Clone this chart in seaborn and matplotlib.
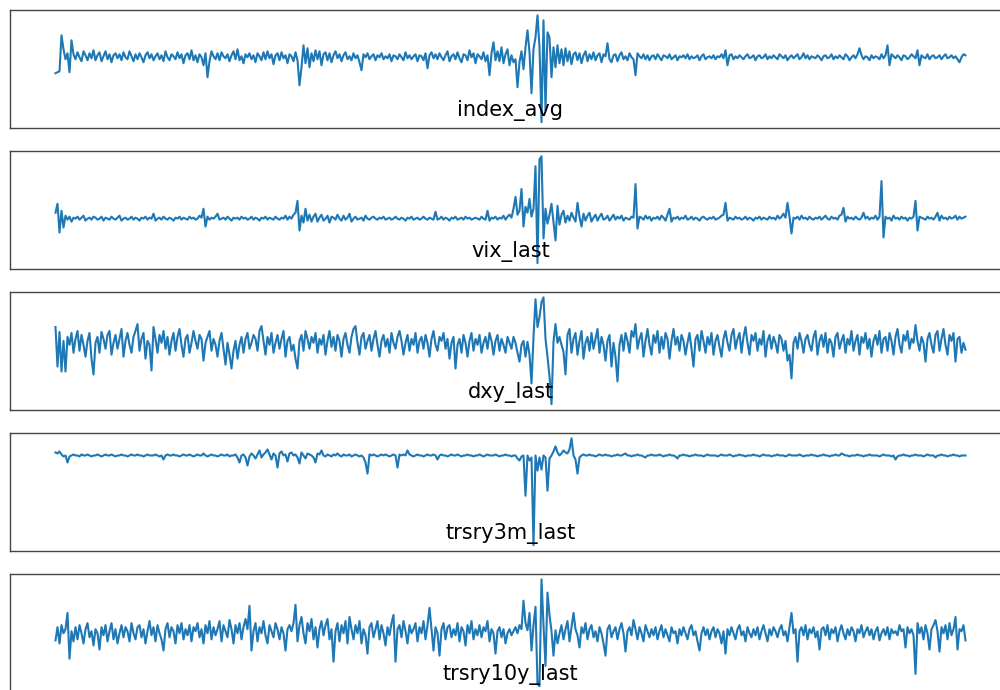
import numpy as np
import matplotlib
matplotlib.use("Agg")
import matplotlib.pyplot as plt
import seaborn as sns

# daily changes (arbitrary units)
index_avg = [
    -16, -15, -14, 22, 8, -2, 4, -15, 17, 3,
    -2, 5, 0, -4, 6, 2, -3, 4, -1, 7,
    -3, 2, 5, -4, 1, 6, -2, 3, -5, 2,
    4, -1, 3, -3, 5, 0, -2, 6, 1, -4,
    3, -2, 4, 0, -5, 2, 5, -1, 3, -3,
    1, 4, -2, 2, -4, 6, 0, -3, 3, 1,
    -2, 5, -1, 3, -6, 2, 4, -2, 7, -3,
    2, -5, 3, 0, -8, 4, -20, -4, 6, 1,
    -2, 4, -3, 5, 1, -1, 3, -4, 2, 6,
    -2, 8, -3, 1, -6, 3, 0, 4, -2, 2,
    -5, 4, 1, -3, 5, -2, 6, -1, 3, -7,
    2, 4, -3, 5, -1, 2, -6, 3, 1, -4,
    5, -3, -28, -10, 12, -6, 9, -10, 4, -4,
    7, -2, 6, -8, 3, 5, -3, 4, -5, 2,
    6, -1, 3, -4, 2, 5, -2, 1, -3, 4,
    -1, 2, -5, -13, 3, 0, 4, -2, 1, 3,
    -3, 2, 0, 4, -2, 1, -1, 3, -4, 2,
    1, -2, 3, 0, -3, 5, -1, 2, -2, 1,
    3, -4, 2, 1, -3, 4, -11, 2, 5, -1,
    3, -2, 4, 0, -3, 2, 6, -4, 1, 3,
    -2, 5, -1, -5, 3, 2, -3, 7, 0, 4,
    -6, 3, 1, -2, 5, -4, 2, -18, 4, 15,
    -3, 6, -4, 10, -6, 3, 8, -8, 2, -5,
    -2, -30, -5, 6, -12, 10, 27, 5, -36, 8,
    20, 42, 10, -65, 37, -53, 25, 20, -20, 10,
    -10, 12, -6, 8, -8, 9, -4, 6, -7, 3,
    5, -3, 4, -6, 2, 6, -4, 3, -2, 5,
    -3, 2, 4, -5, 3, 1, 14, -2, -5, 2,
    3, -4, 2, 5, -2, 1, -3, 4, 0, -2,
    -18, 4, 1, -1, 3, -2, 2, -3, 1, 2,
    -2, 3, 0, -3, 2, 1, -1, 3, -2, 0,
    2, -3, 1, 0, 2, -1, 3, -2, 1, -1,
    0, 2, -3, 1, 3, -2, 0, 1, -1, 2,
    -2, 1, 0, 3, -1, 7, -8, 2, 3, -2,
    1, -1, 2, 0, -2, 1, 3, -1, 0, 2,
    -3, 1, 2, -1, 0, 3, -2, 1, -1, 2,
    0, -2, 3, 1, -1, 2, -3, 0, 2, -1,
    1, 3, -2, 0, 4, -1, 2, -2, 1, 0,
    -1, 2, 0, -3, 1, 2, -1, 0, 3, -2,
    1, -1, 2, 0, -2, 3, 1, -3, 0, 2,
    -1, 3, 9, 2, -2, 1, 0, -3, 2, -1,
    1, 0, -2, 3, -1, 2, 12, -8, 3, 1,
    -1, 2, 0, -3, 2, 1, -2, 0, 3, 1,
    -1, 7, -8, 2, 0, -1, 3, -2, 1, 2,
    -1, 0, 2, -2, 1, 3, -1, 0, 2, -1,
    1, -2, -5, 0, 3, 2,
]

vix_last = [
    6, 15, -14, 8, -9, 3, -1, 2, -3, 1,
    0, 2, -1, 1, 3, -2, 0, 1, -1, 2,
    1, -1, 0, 2, -2, 1, 0, -1, 2, 0,
    -1, 1, 3, -2, 0, 1, -1, 0, 2, -1,
    1, 0, -2, 1, 0, 2, -1, 1, 0, 5,
    -2, 0, 1, -1, 2, 0, -1, 1, 0, -2,
    1, 0, 2, -1, 1, 0, -1, 2, 0, 1,
    -1, 0, 3, 1, 10, -8, 2, -1, 1, 0,
    2, 5, -1, 0, 1, -1, 2, 0, -2, 1,
    0, 1, -1, 2, 0, 1, -1, 0, 2, -1,
    1, 0, -2, 1, 0, 2, -1, 1, 0, -1,
    2, 0, -1, 1, 0, 3, -1, 2, 0, 4,
    6, 18, -12, 3, -4, 10, -2, 4, -3, 2,
    5, -3, 1, 4, -2, 0, 3, -4, 2, 1,
    -1, 4, 0, -2, 3, -1, 1, 5, -3, 0,
    2, -1, 0, 1, -2, 3, 0, -1, 1, 2,
    0, -1, 1, 0, 2, -1, 0, 1, -1, 0,
    2, 0, -1, 1, 0, -2, 1, 0, 2, -1,
    0, 1, -1, 0, 2, 0, -1, 1, 0, -1,
    7, -1, 0, 2, -1, 1, 0, -2, 1, 0,
    2, -1, 0, 1, -1, 2, 0, 1, -1, 0,
    1, 0, -1, 2, 0, -1, 8, -2, 1, 0,
    2, -1, 1, 0, 3, -1, 2, 4, 1, 10,
    22, 4, 8, 30, -8, 12, 6, 20, 2, 10,
    53, -45, 60, 63, -20, 10, -5, 4, 15, -4,
    -22, 13, -6, 4, 8, -4, 3, -2, 6, 1,
    -3, 16, 2, -8, 5, -2, 3, 6, -3, 1,
    4, -2, 2, 5, -1, 0, 3, -2, 1, 4,
    -1, 2, 0, 3, -2, 1, 0, -1, 2, 1,
    35, -10, 2, 1, -1, 3, 0, 2, -2, 1,
    0, 2, -1, 3, 1, -2, 4, 10, -3, 1,
    0, 2, -1, 1, 0, 3, -1, 0, 2, -1,
    1, 0, -2, 1, 2, 0, -1, 1, 0, 2,
    -1, 0, 1, 3, 4, 16, -2, 1, 0, -1,
    2, 0, 1, -1, 0, 2, -1, 1, 0, -2,
    1, 0, 2, -1, 1, 0, -1, 2, 0, 1,
    -1, 3, 0, 2, 5, 1, 16, 2, -15, 1,
    0, 2, -1, 3, 0, 1, -1, 2, 0, -1,
    1, 0, 2, -1, 1, 3, 0, -1, 2, 0,
    1, -1, 3, 4, 11, -3, 2, 0, 1, -1,
    2, 0, -1, 1, 6, 0, 2, -1, 1, 0,
    3, -1, 2, 38, -19, 2, 0, 1, -2, 3,
    0, 1, -1, 2, 0, 1, -2, 1, 0, 2,
    18, -12, 2, 1, 0, -1, 2, 0, 1, -1,
    2, 6, -2, 3, 0, 1, -1, 2, 0, 1,
    3, -1, 2, 0, 1, 2,
]

dxy_last = [
    20, -20, 15, -25, 6, -25, 10, 2, 14, -6,
    8, 16, -4, 12, 2, -10, 6, 14, -12, -28,
    4, 10, -6, 15, 8, -2, 12, 16, -8, 4,
    12, -2, 8, 18, -10, 6, 14, 2, -6, 10,
    16, 23, -4, 8, 14, -12, 6, 2, -24, 20,
    8, -6, 12, 4, 16, -2, 10, -8, 6, 14,
    -4, 10, 18, 2, -10, 8, 12, -6, 4, 16,
    6, -2, 12, 8, -14, 4, 10, 16, -4, 8,
    2, -10, 6, 14, -2, -18, 4, -8, -22, -4,
    6, -12, 2, 10, -6, 8, 14, -2, 4, 12,
    8, -4, 16, 21, 6, -8, 10, 2, 14, -6,
    4, 12, -2, 8, 16, -10, 6, 10, -4, 2,
    -12, -22, 6, 12, -4, 16, 8, -2, 10, 4,
    14, -6, 8, 2, 12, -8, 6, 16, 0, 10,
    -4, 12, 6, -10, 8, 14, 2, -6, 10, 18,
    21, 4, -8, 10, 14, -2, 6, 12, -4, 8,
    16, 2, -10, 6, 12, 0, 8, -6, 14, 4,
    -2, 10, 16, 6, -8, 4, 12, -4, 8, 2,
    14, -6, 6, 10, -2, 12, 4, -10, 8, 16,
    2, -4, 10, 6, 14, -2, 8, -12, 4, 10,
    -22, 2, 8, -6, 12, 4, -10, 6, 14, -4,
    8, 2, 12, -6, 4, 10, -2, 14, 6, -8,
    6, 12, -4, 8, 2, -6, 10, 4, -2, 10,
    4, -6, -15, 2, 6, -10, 5, -8, -37, 10,
    48, 20, 30, 45, 50, 8, -10, -30, -58, 5,
    23, 4, 10, 2, -5, -28, 12, 18, -6, 8,
    14, -8, 6, 16, -12, 4, 10, -4, 14, -2,
    8, 18, -6, 10, 2, -14, 6, 12, -20, 4,
    -10, -35, 2, 12, -4, 14, 6, -6, 16, 10,
    23, -2, 8, 14, -10, 6, 18, 2, -8, 12,
    4, 16, -6, 10, -2, 14, 8, -12, 6, 18,
    2, 10, -4, 12, 6, -8, 4, 14, -2, -20,
    8, 12, -4, 16, 6, -6, 10, 2, 14, -8,
    6, 12, 0, -10, 8, 16, 4, -4, 12, 18,
    -2, 8, 14, -6, 10, 20, 4, -8, 12, 6,
    14, -4, 8, 2, 16, -10, 6, 12, -2, 10,
    4, -6, 12, 8, -4, 6, -14, -8, -32, 4,
    10, -2, 14, 6, -6, 8, 12, 2, -4, 10,
    16, -8, 6, 12, 0, 14, -6, 8, 4, -10,
    10, 14, -2, 6, 12, -6, 8, 2, 16, -4,
    6, 12, -8, 10, 4, 14, -2, 8, -10, 6,
    12, 2, 16, -6, 8, 10, -4, 14, 6, -8,
    10, 18, 2, -6, 12, 6, 16, -2, 8, 4,
    22, 6, -4, 10, 4, -15, 8, 14, 2, -6,
    12, 16, -4, 8, 18, 2, -8, 12, 6, 14,
    -15, 8, 10, -6, 4, -3,
]

trsry3m_last = [
    3, 2, 4, 1, -1, 0, -7, -1, 0, 1,
    0, 0, -1, 1, 0, 0, 1, 0, -1, 0,
    0, 1, 0, -1, 0, 1, 0, 0, 1, 0,
    -1, 0, 0, 1, 0, 0, -1, 0, 1, 0,
    0, 1, 0, 0, -1, 0, 1, 0, 0, 0,
    1, 0, -1, 0, -4, 0, 1, 0, 0, 1,
    0, 0, -1, 0, 1, 0, 0, 1, 0, -1,
    0, 1, 0, 0, 2, 0, -1, 0, 1, 0,
    0, -1, 0, 1, 0, 0, 1, -1, 0, 0,
    1, -2, -7, 0, 1, -2, -10, -1, 2, 0,
    -3, 1, 5, -2, 1, 3, 6, 1, -4, 2,
    0, -12, 2, 4, 0, 1, -6, 2, 3, 0,
    1, -2, -8, 3, 0, -3, 2, 1, 0, -2,
    -7, 2, 1, 5, 0, -1, 1, 0, -1, 1,
    0, 2, 0, -1, 1, 0, 0, 1, -1, 0,
    1, 0, -1, 0, -2, -7, -18, 1, 0, 1,
    0, -1, 0, 1, 0, 1, 0, -1, 0, 1,
    0, -12, 1, 0, 1, 0, 5, 1, 0, -1,
    0, 1, 0, 0, -1, 0, 1, 0, 0, 1,
    0, -4, 0, 1, 0, 0, -1, 0, 1, 0,
    0, 1, 0, -1, 0, 0, 1, 0, 0, -1,
    0, 0, 1, 0, -1, 0, 1, 0, 0, 0,
    1, 0, -1, 0, 0, 1, 0, 0, -1, 0,
    0, -3, -5, -1, 0, -40, 0, -5, -2, -89,
    0, -15, -2, -14, 0, -2, -35, -3, 0, 4,
    9, 3, 0, 2, 5, 3, 2, 6, 17, 0,
    -4, -18, -2, 0, 1, 0, 0, 1, 0, 0,
    -1, 0, 1, 0, 0, 1, 0, 0, -1, 0,
    0, 1, 0, 0, 1, 2, 0, 0, -1, 0,
    0, 1, 0, 0, -1, -2, 0, 0, 1, 0,
    0, 0, 1, 0, -1, 0, 0, 1, 0, 0,
    -1, -3, 0, 0, 1, 0, 0, -1, 0, 0,
    1, 0, 0, 0, -1, 0, 1, 0, 0, 0,
    0, -1, 0, 1, 0, 0, 0, 1, 0, -1,
    0, 0, 1, 0, 0, -1, 0, 0, 0, 1,
    0, 0, -1, 0, 1, 0, 0, 0, -1, 0,
    0, 1, 0, 0, 0, -1, 0, 1, 0, 0,
    0, 0, 1, 0, -1, 0, 0, 0, 1, 0,
    0, -1, 0, 0, 1, 0, 0, -1, 0, 0,
    1, 0, 0, 2, 1, 0, 0, -1, 0, 0,
    0, 1, 0, 0, -1, 0, 0, 1, 0, 0,
    0, 0, -1, 0, 1, 0, 0, 0, -1, 0,
    -4, -1, 0, 0, 1, 0, 0, -1, 0, 0,
    1, 0, 0, 0, -1, 0, 1, 0, 0, 0,
    -2, 0, 0, 1, 0, 0, -1, 0, 0, 1,
    0, 0, -1, 0, 0, 0,
]

trsry10y_last = [
    -5, 8, -8, 10, 2, 6, 22, -23, 4, -6,
    8, -4, 10, 2, -8, 6, 12, -2, 4, -10,
    6, 2, -14, 8, 0, 10, -6, 4, 12, -4,
    6, -8, 2, 10, -2, 8, 4, -6, 12, 2,
    -4, 8, 10, -2, 6, -8, 4, 14, 0, 8,
    -6, 10, 2, -4, -15, 6, 12, -2, 8, 4,
    -8, 10, 2, 12, -4, 6, 0, 10, -6, 8,
    4, 12, -2, 6, -8, 10, 2, 14, -4, 8,
    0, 6, 14, -6, 10, 4, -2, 15, 6, -8,
    10, 2, 12, -4, 8, 16, 6, 29, -15, 4,
    12, -6, 8, 2, 14, 0, -8, 10, 4, -2,
    12, 6, -4, 8, 2, -15, 6, 10, 4, 12,
    30, -6, 10, 18, 2, -8, 12, 4, 16, -4,
    8, -12, 6, 14, 0, 10, 16, -4, 6, -26,
    4, 12, -6, 10, 2, 14, -8, 18, 6, -4,
    10, 2, 14, -8, 6, 0, -18, 8, 12, -2,
    6, 14, -4, 10, 2, -10, 8, 0, 12, 20,
    -26, 6, 10, -2, 14, 4, -8, 10, 2, 6,
    12, -6, 8, 2, 14, -4, 10, 27, 6, -15,
    8, 2, -20, 6, 12, -4, 8, 10, -2, 6,
    0, 12, -6, 8, 4, -10, 10, 2, 14, -4,
    6, 0, 10, -2, 8, 4, 14, -6, 6, 2,
    -18, 4, 8, -2, 6, -8, 2, 6, 0, 4,
    8, 2, 10, 6, 34, 12, 5, 22, -15, 10,
    28, -48, -50, 55, 10, -30, 42, 20, 4, -20,
    5, -8, 2, 10, -4, 6, 14, -6, 8, 22,
    6, 0, -12, 8, 2, 12, -4, 6, 10, -2,
    4, -6, 8, 2, -8, -20, 6, 10, -2, 4,
    8, -4, 6, 12, 2, -16, 4, 8, 0, 15,
    6, -4, 8, 2, -6, 10, 4, -2, 6, 0,
    8, -4, 4, 10, -2, 6, 0, -6, 8, 2,
    4, -8, 6, 0, 8, 2, -4, 6, 10, 0,
    4, -6, -15, 2, 8, 0, 6, -4, 4, 8,
    -2, 6, 2, -8, 4, -18, 6, 0, 8, 2,
    -4, 6, 10, 0, 4, -6, 8, 2, -2, 6,
    0, 8, -4, 4, 10, 2, -6, 6, 0, 8,
    4, -2, 6, 10, 0, 4, -6, 8, 22, 2,
    6, -26, 4, 8, 0, 10, -4, 6, 2, 8,
    -2, 4, -14, 6, 8, 0, 10, -4, 6, 2,
    8, -6, 4, 10, 2, -4, 6, 0, 8, 4,
    -6, 6, 2, 10, -2, 4, 8, 0, 6, -4,
    4, 8, -5, 2, 6, 0, 8, -4, 6, 2,
    4, 0, 10, 4, 6, -12, 8, 2, 6, 0,
    -38, 12, 2, 8, -4, 10, 2, -14, 6, 10,
    15, 4, -16, 8, 2, 10, -4, 12, 0, 6,
    18, -14, 6, 4, 10, -5,
]

columns = ["index_avg", "vix_last", "dxy_last", "trsry3m_last", "trsry10y_last"]
series = [index_avg, vix_last, dxy_last, trsry3m_last, trsry10y_last]

fig = plt.figure(figsize=(10, 6.9), dpi=100)

# panels are wider than the canvas, so the right edge is cut off like in the original
for k, (name, values) in enumerate(zip(columns, series)):
    top = 10 + 141 * k
    ax = fig.add_axes([0.01, 1 - (top + 117.5) / 690, 1.001, 117.5 / 690])
    sns.lineplot(x=np.arange(len(values)), y=values, ax=ax, color="#1f77b4", linewidth=1.5)
    ax.set_xticks([])
    ax.set_yticks([])
    ax.set_xlabel("")
    ax.set_ylabel("")
    for spine in ax.spines.values():
        spine.set_color("#444444")
        spine.set_linewidth(1.0)
    ax.set_title(name, y=0, pad=8, fontsize=15)

fig.savefig("out.png", dpi=100)
plt.close(fig)
